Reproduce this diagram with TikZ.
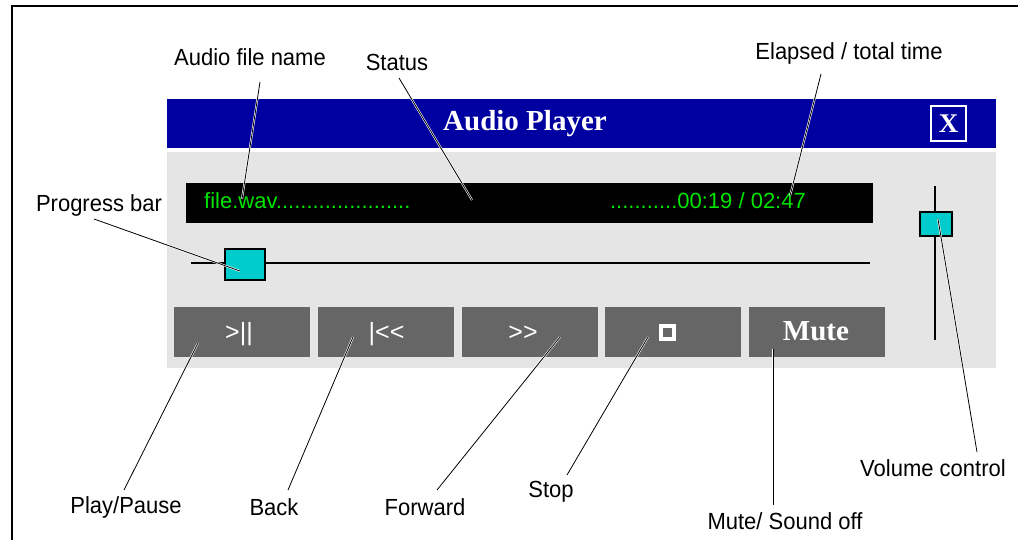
\documentclass[tikz,border=0pt]{standalone}
\usepackage{fontspec}
\setmainfont{Liberation Sans}
\newfontfamily\serifb{Liberation Serif}
\definecolor{titleblue}{RGB}{0,0,160}
\definecolor{panelgray}{RGB}{229,229,229}
\definecolor{btngray}{RGB}{102,102,102}
\definecolor{knobcyan}{RGB}{0,204,204}
\definecolor{dispgreen}{RGB}{0,230,0}
\begin{document}
\begin{tikzpicture}[x=1pt,y=-1pt,
  lbl/.style={font=\fontsize{22}{24}\selectfont, inner sep=0pt, yscale=1.06},
  disptext/.style={font=\fontsize{22}{24}\selectfont, text=dispgreen, inner sep=0pt},
  btn/.style={fill=btngray, minimum width=136pt, minimum height=50pt, inner sep=0pt},
  btntext/.style={text=white, inner sep=0pt, font=\fontsize{25}{27}\selectfont},
  serifbold/.style={text=white, inner sep=0pt, font=\serifb\bfseries\fontsize{29}{31}\selectfont},
  knob/.style={draw=black, line width=1.5pt, fill=knobcyan, inner sep=0pt},
  callout/.style={draw=black, line width=0.8pt, preaction={draw=white, line width=2pt}}]
\useasboundingbox (0,0) rectangle (1018,540);
% outer frame
\draw[line width=2pt] (12,540) -- (12,6) -- (1018,6);
% title bar
\node[fill=titleblue, minimum width=829pt, minimum height=49pt, inner sep=0pt, anchor=north west] (bar) at (167,99) {};
\node[serifbold] (title) at (525,124) {Audio Player};
\node[draw=white, line width=1.5pt, minimum width=35pt, minimum height=35pt, text=white, inner sep=0pt, font=\serifb\bfseries\fontsize{27}{28}\selectfont] (close) at (948.5,123.5) {X};
% panel
\node[fill=panelgray, minimum width=829pt, minimum height=216pt, inner sep=0pt, anchor=north west] (panel) at (167,152) {};
% display
\node[fill=black, minimum width=687pt, minimum height=40pt, inner sep=0pt, anchor=north west] (display) at (186,183) {};
\node[disptext, anchor=base west] (fname) at (204,209) {file.wav......................};
\node[disptext, anchor=base east] (time) at (806,209) {...........00:19 / 02:47};
% progress bar
\coordinate (pstart) at (191,263);
\coordinate (pend) at (870,263);
\draw[line width=1.5pt] (pstart) -- (pend);
\node[knob, minimum width=40pt, minimum height=31pt] (pknob) at (245,264.5) {};
% volume
\coordinate (vtop) at (935,186);
\coordinate (vbot) at (935,340);
\draw[line width=1.5pt] (vtop) -- (vbot);
\node[knob, minimum width=32pt, minimum height=24pt] (vknob) at (936,224) {};
% buttons
\node[btn] (b1) at (242,332) {};
\node[btn] (b2) at (385.5,332) {};
\node[btn] (b3) at (529.5,332) {};
\node[btn] (b4) at (673,332) {};
\node[btn] (b5) at (816.5,332) {};
\node[btntext, anchor=base] (t1) at (239,341) {>||};
\node[btntext, anchor=base] (t2) at (386.5,341) {|<{}<};
\node[btntext, anchor=base] (t3) at (523,341) {>{}>};
\node[draw=white, line width=4pt, minimum width=13pt, minimum height=13pt, inner sep=0pt] (t4) at (667,332) {};
\node[serifbold, anchor=base] (t5) at (816,341) {Mute};
% labels
\node[lbl] (lfile) at (250,57) {Audio file name};
\node[lbl] (lstatus) at (397,62) {Status};
\node[lbl] (ltime) at (849,53) {Elapsed / total time};
\node[lbl] (lprog) at (99,205) {Progress bar};
\node[lbl] (lplay) at (126,507) {Play/Pause};
\node[lbl] (lback) at (274,507) {Back};
\node[lbl] (lfwd) at (425,507) {Forward};
\node[lbl] (lstop) at (551,492) {Stop};
\node[lbl] (lmute) at (785,521) {Mute/ Sound off};
\node[lbl] (lvol) at (933,468) {Volume control};
% callout end points
\coordinate (cfile1) at (260,82);   \coordinate (cfile2) at (242,199);
\coordinate (cstat1) at (399,78);   \coordinate (cstat2) at (472,200);
\coordinate (ctime1) at (821,74);   \coordinate (ctime2) at (790,196);
\coordinate (cprog1) at (94,219);   \coordinate (cprog2) at (240,271);
\coordinate (cplay1) at (124,490);  \coordinate (cplay2) at (198,343);
\coordinate (cback1) at (288,490);  \coordinate (cback2) at (353,337);
\coordinate (cfwd1) at (437,490);   \coordinate (cfwd2) at (560,337);
\coordinate (cstop1) at (567,475);  \coordinate (cstop2) at (648,337);
\coordinate (cmute1) at (773,505);  \coordinate (cmute2) at (773,349);
\coordinate (cvol1) at (977,452);   \coordinate (cvol2) at (938,219);
\foreach \a/\b in {cfile1/cfile2,cstat1/cstat2,ctime1/ctime2,cprog1/cprog2,cplay1/cplay2,cback1/cback2,cfwd1/cfwd2,cstop1/cstop2,cmute1/cmute2,cvol1/cvol2}
  \path[callout] (\a) -- (\b);
\end{tikzpicture}
\end{document}
